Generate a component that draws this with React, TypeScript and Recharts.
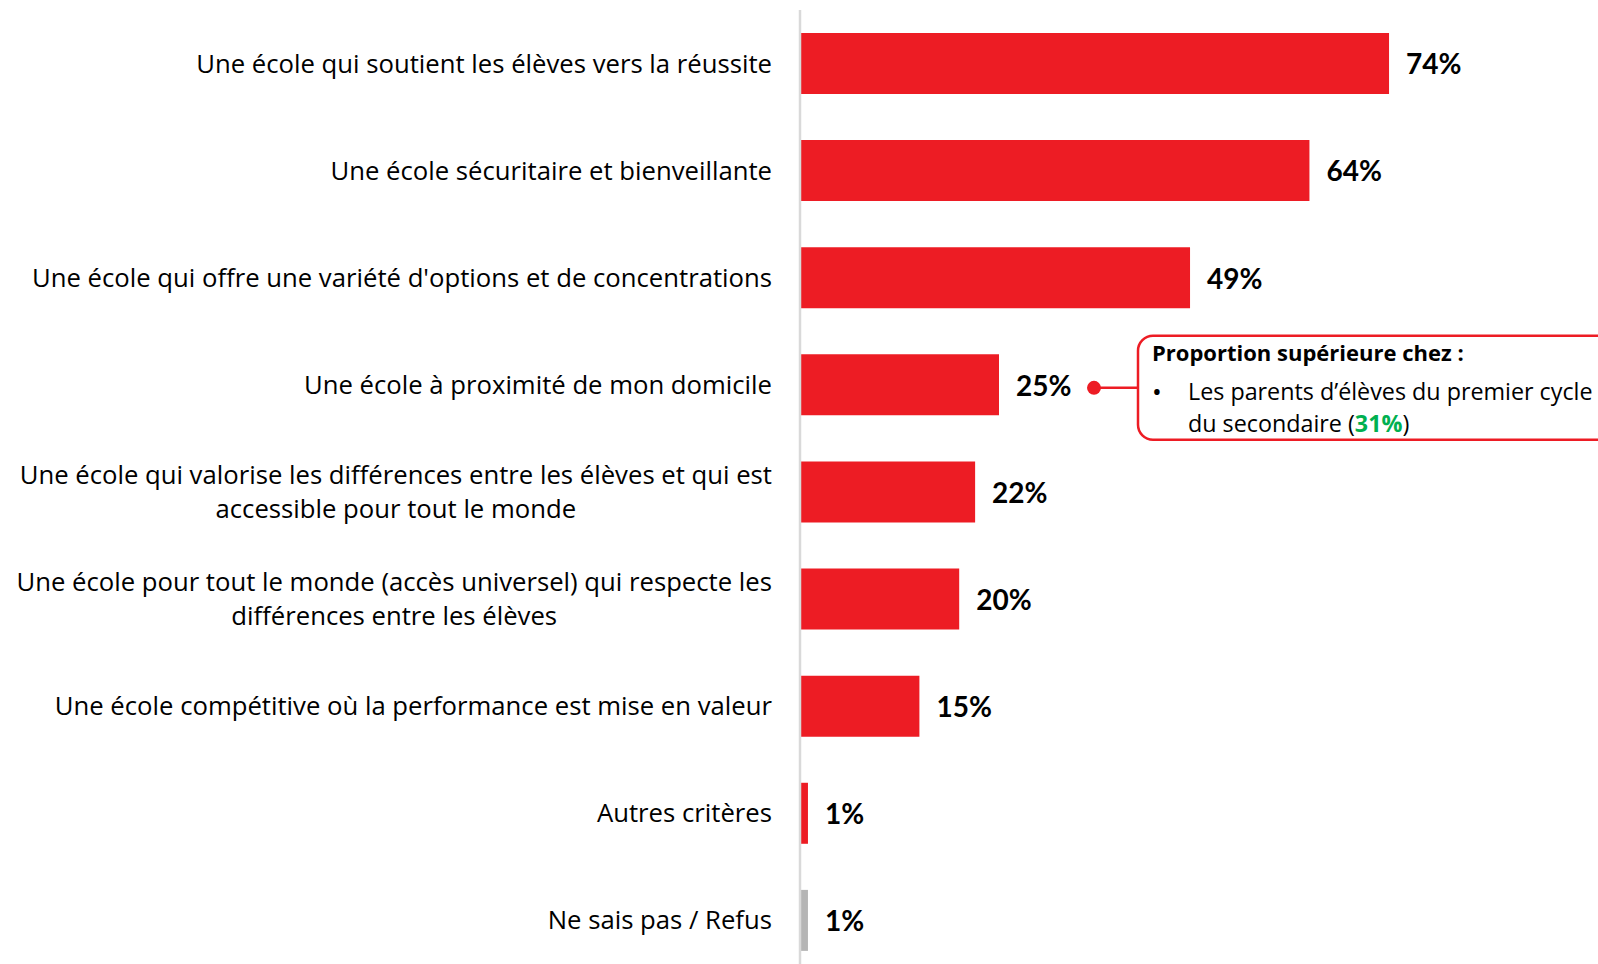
import { Bar, BarChart, Cell, LabelList, XAxis, YAxis } from "recharts";

const categories = [
  "Une école qui soutient les élèves vers la réussite",
  "Une école sécuritaire et bienveillante",
  "Une école qui offre une variété d'options et de concentrations",
  "Une école à proximité de mon domicile",
  "Une école qui valorise les différences entre les élèves et qui est|accessible pour tout le monde",
  "Une école pour tout le monde (accès universel) qui respecte les|différences entre les élèves",
  "Une école compétitive où la performance est mise en valeur",
  "Autres critères",
  "Ne sais pas / Refus",
];
const values = [74, 64, 49, 25, 22, 20, 15, 1, 1];
const barColors = ["#ED1C24", "#ED1C24", "#ED1C24", "#ED1C24", "#ED1C24", "#ED1C24", "#ED1C24", "#ED1C24", "#B5B5B5"];

const calloutIndex = 3;
const calloutTitle = "Proportion supérieure chez :";
const calloutLine1 = "Les parents d’élèves du premier cycle";
const calloutLine2 = "du secondaire (";
const calloutValue = "31%";

const FONT = "'Open Sans', sans-serif";
const NUM_FONT = "Lato, 'Open Sans', sans-serif";
const LABEL_SIZE = 25.7;

const data = categories.map((c, i) => ({ name: c, value: values[i], color: barColors[i] }));

let ctx: CanvasRenderingContext2D | null = null;
function measure(text: string, font: string) {
  if (!ctx) ctx = document.createElement("canvas").getContext("2d");
  if (!ctx) return text.length * 11;
  ctx.font = font;
  return ctx.measureText(text).width;
}

function CategoryTick(props: any) {
  const { x, y, payload } = props;
  const lines = String(payload.value).split("|");
  const right = x - 20;
  if (lines.length === 1) {
    return (
      <text x={right} y={y} dy="0.35em" textAnchor="end" fontSize={LABEL_SIZE} fontFamily={FONT} fill="#000">
        {lines[0]}
      </text>
    );
  }
  const w = measure(lines[0], `${LABEL_SIZE}px 'Open Sans'`);
  const cx = right - w / 2;
  return (
    <g>
      <text x={cx} y={y - 17} dy="0.35em" textAnchor="middle" fontSize={LABEL_SIZE} fontFamily={FONT} fill="#000">
        {lines[0]}
      </text>
      <text x={cx} y={y + 17} dy="0.35em" textAnchor="middle" fontSize={LABEL_SIZE} fontFamily={FONT} fill="#000">
        {lines[1]}
      </text>
    </g>
  );
}

function ValueLabel(props: any) {
  const { x, y, width, height, value, index } = props;
  const end = x + width;
  const cy = y + height / 2;
  const label = (
    <text x={end + 17} y={cy + 1} dy="0.35em" fontSize={28} fontWeight={700} fontFamily={NUM_FONT} fill="#000">
      {value}%
    </text>
  );
  if (index !== calloutIndex) return label;
  // callout for the highlighted row
  const dotX = end + 95;
  const dotY = cy + 3;
  const boxX = end + 139;
  const boxTop = cy - 49;
  return (
    <g>
      {label}
      <circle cx={dotX} cy={dotY} r={7} fill="#ED1C24" />
      <line x1={dotX} y1={dotY} x2={boxX} y2={dotY} stroke="#ED1C24" strokeWidth={2.5} />
      <rect x={boxX} y={boxTop} width={520} height={104} rx={15} ry={15} fill="#fff" stroke="#ED1C24" strokeWidth={2.5} />
      <text x={boxX + 14} y={boxTop + 17} dy="0.35em" fontSize={22} fontWeight={700} fontFamily={FONT} fill="#000">
        {calloutTitle}
      </text>
      <text x={boxX + 14} y={boxTop + 56} dy="0.35em" fontSize={26} fontFamily={FONT} fill="#000">
        •
      </text>
      <text x={boxX + 50} y={boxTop + 56} dy="0.35em" fontSize={23.3} fontFamily={FONT} fill="#000">
        {calloutLine1}
      </text>
      <text x={boxX + 50} y={boxTop + 88} dy="0.35em" fontSize={23.3} fontFamily={FONT} fill="#000">
        {calloutLine2}
        <tspan fill="#00B050" fontWeight={700}>{calloutValue}</tspan>
        <tspan>)</tspan>
      </text>
    </g>
  );
}

export default function App() {
  return (
    <div style={{ position: "fixed", top: 0, left: 0, width: 1598, height: 964, overflow: "hidden", background: "#fff" }}>
      <BarChart
        width={1598}
        height={975}
        data={data}
        layout="vertical"
        margin={{ top: 10, right: 2, bottom: 1, left: 0 }}
        barCategoryGap="43%"
      >
        <XAxis type="number" domain={[0, 100]} hide />
        <YAxis
          type="category"
          dataKey="name"
          width={800}
          axisLine={{ stroke: "#D9D9D9", strokeWidth: 2.5 }}
          tickLine={false}
          tick={<CategoryTick />}
          interval={0}
        />
        <Bar dataKey="value" barSize={61} isAnimationActive={false}>
          {data.map((d, i) => (
            <Cell key={i} fill={d.color} />
          ))}
          <LabelList dataKey="value" content={<ValueLabel />} />
        </Bar>
      </BarChart>
    </div>
  );
}
